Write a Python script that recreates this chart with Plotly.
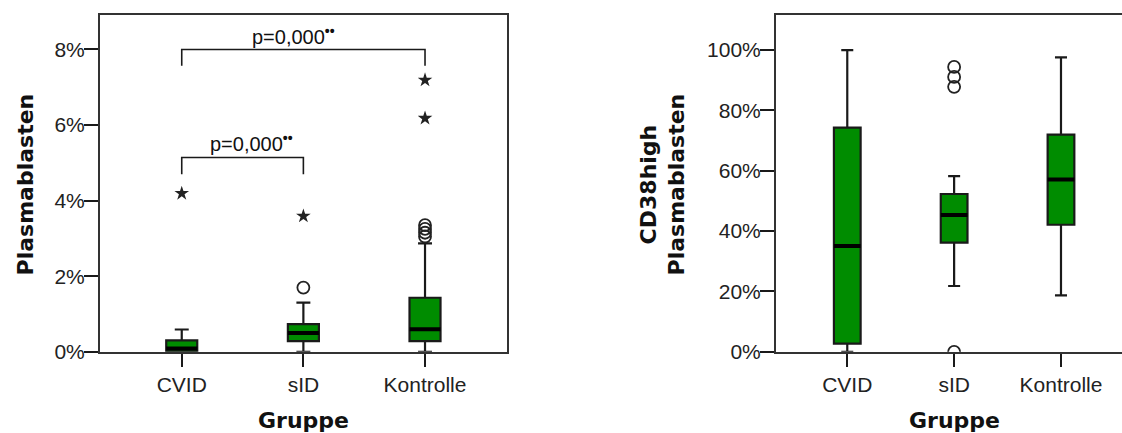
import plotly.graph_objects as go

# ---- data -------------------------------------------------------------
groups = ["CVID", "sID", "Kontrolle"]

# Plasmablasten (% of B cells): box statistics per group
pb_q1 = [0.01, 0.28, 0.28]
pb_median = [0.09, 0.50, 0.60]
pb_q3 = [0.30, 0.73, 1.43]
pb_lower = [0.0, 0.0, 0.0]
pb_upper = [0.59, 1.30, 2.87]
# outliers: group index and value
pb_circles_group = [1, 2, 2, 2, 2]
pb_circles_value = [1.70, 3.05, 3.15, 3.25, 3.35]
pb_stars_group = [0, 1, 2, 2]
pb_stars_value = [4.19, 3.59, 6.18, 7.19]

# CD38high Plasmablasten (%)
cd_q1 = [2.7, 36.2, 42.1]
cd_median = [35.1, 45.3, 57.1]
cd_q3 = [74.3, 52.3, 72.0]
cd_lower = [0.0, 21.8, 18.7]
cd_upper = [100.0, 58.2, 97.6]
cd_circles_group = [1, 1, 1, 1]
cd_circles_value = [0.0, 87.8, 91.1, 94.4]

# significance brackets on the left panel: (from group, to group, height, leg bottom)
brackets = [(0, 2, 8.0, 7.57), (0, 1, 5.14, 4.70)]
bracket_labels = ["p=0,000<sup><b>••</b></sup>", "p=0,000<sup><b>••</b></sup>"]
label_x = [0.56, 0.215]
label_y = [8.36, 5.55]

# ---- style ------------------------------------------------------------
GREEN = "rgb(0,140,0)"
INK = "#1a1a1a"
TICK_FONT = dict(family="Liberation Sans, Arial, sans-serif", size=21, color="#222")
TITLE_FONT = dict(family="DejaVu Sans, sans-serif", size=22, color="#111")
W = 1122
H = 445          # figure height
FRAME_H = 433    # layout grid (px) used for placing panels and titles


def py(px_from_top):
    """paper y for a position given in pixels from the top of the layout grid"""
    return 1 - px_from_top / FRAME_H


fig = go.Figure()


def add_panel(xa, ya, q1, med, q3, lo, hi, box_w):
    idx = list(range(len(groups)))
    fig.add_trace(go.Box(
        x=idx, q1=q1, median=med, q3=q3, lowerfence=lo, upperfence=hi,
        width=box_w, whiskerwidth=0.45, fillcolor=GREEN,
        line=dict(color=INK, width=2.2), xaxis=xa, yaxis=ya,
        showlegend=False, hoverinfo="skip",
    ))
    # thicker median bars drawn on top of the boxes
    for i, m in zip(idx, med):
        fig.add_trace(go.Scatter(
            x=[i - box_w / 2, i + box_w / 2], y=[m, m], mode="lines",
            line=dict(color="#000", width=4), xaxis=xa, yaxis=ya,
            showlegend=False, hoverinfo="skip",
        ))


def add_outliers(xa, ya, gx, vals, symbol):
    is_star = symbol == "star"
    fig.add_trace(go.Scatter(
        x=gx, y=vals, mode="markers", xaxis=xa, yaxis=ya,
        marker=dict(
            symbol=symbol, size=11 if is_star else 12, color="#222",
            line=dict(color="#222", width=0 if is_star else 1.8),
        ),
        showlegend=False, hoverinfo="skip",
    ))


add_panel("x", "y", pb_q1, pb_median, pb_q3, pb_lower, pb_upper, 0.255)
add_outliers("x", "y", pb_circles_group, pb_circles_value, "circle-open")
add_outliers("x", "y", pb_stars_group, pb_stars_value, "star")

add_panel("x2", "y2", cd_q1, cd_median, cd_q3, cd_lower, cd_upper, 0.25)
add_outliers("x2", "y2", cd_circles_group, cd_circles_value, "circle-open")

# significance brackets and their labels
for (a, b, top, leg) in brackets:
    fig.add_shape(type="path", xref="x", yref="y",
                  path=f"M {a},{leg} L {a},{top} L {b},{top} L {b},{leg}",
                  line=dict(color=INK, width=1.6))
for txt, lx, ly in zip(bracket_labels, label_x, label_y):
    fig.add_annotation(xref="x", yref="y", x=lx, y=ly, text=txt, showarrow=False,
                       xanchor="left", yanchor="middle",
                       font=dict(family="Liberation Sans, Arial, sans-serif", size=20, color="#111"))

# axis titles
for xref in ["x", "x2"]:
    fig.add_annotation(xref=xref, yref="paper", x=1, y=py(420), text="<b>Gruppe</b>",
                       showarrow=False, xanchor="center", yanchor="middle", font=TITLE_FONT)
fig.add_annotation(xref="paper", yref="paper", x=25 / W, y=py(184), text="<b>Plasmablasten</b>",
                   textangle=-90, showarrow=False, xanchor="center", yanchor="middle", font=TITLE_FONT)
fig.add_annotation(xref="paper", yref="paper", x=663 / W, y=py(184),
                   text="<b>CD38high</b><br><b>Plasmablasten</b>",
                   textangle=-90, showarrow=False, xanchor="center", yanchor="middle", font=TITLE_FONT)

common_x = dict(tickmode="array", tickvals=[0, 1, 2], ticktext=groups, ticks="outside",
                ticklen=13, tickwidth=2, tickcolor=INK, showline=True, linecolor="#333",
                linewidth=2, showgrid=False, zeroline=False, tickfont=TICK_FONT, fixedrange=True)
common_y = dict(ticks="outside", ticklen=14, tickwidth=2, tickcolor=INK, showline=True,
                linecolor="#333", linewidth=2, showgrid=False, zeroline=False,
                ticksuffix="%", tickfont=TICK_FONT, ticklabelstandoff=-5, fixedrange=True)

y_dom = [py(351), py(15)]
fig.update_layout(
    width=W, height=H, autosize=False, margin=dict(l=0, r=0, t=0, b=0),
    paper_bgcolor="white", plot_bgcolor="white", showlegend=False,
    xaxis=dict(domain=[100 / W, 507 / W], range=[-0.672, 2.674], anchor="y", mirror=True, **common_x),
    yaxis=dict(domain=y_dom, range=[0, 8.91], dtick=2, anchor="x", mirror=True, **common_y),
    xaxis2=dict(domain=[776 / W, 1.0], range=[-0.667, 2.571], anchor="y2", mirror=True, **common_x),
    yaxis2=dict(domain=y_dom, range=[0, 111.6], dtick=20, anchor="x2", mirror=False, **common_y),
)

fig.write_html("out.html", config={"responsive": False})
